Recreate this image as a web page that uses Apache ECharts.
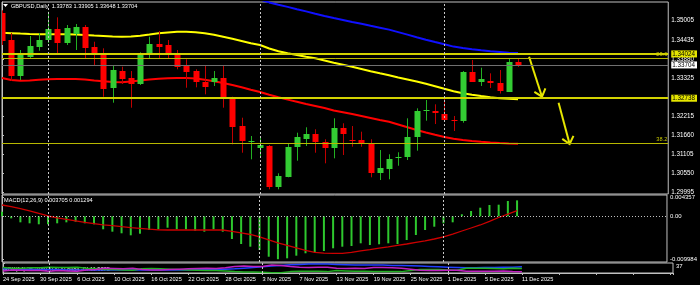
<!DOCTYPE html>
<html><head><meta charset="utf-8">
<script src="https://cdn.jsdelivr.net/npm/echarts@6/dist/echarts.min.js"></script>
<style>html,body{margin:0;padding:0;background:#000;}#c{width:700px;height:285px;}</style>
</head><body><div id="c"></div>
<script>
const dates = ['24 Sep 2025','25 Sep 2025','26 Sep 2025','29 Sep 2025','30 Sep 2025',
'1 Oct 2025','2 Oct 2025','3 Oct 2025','6 Oct 2025','7 Oct 2025','8 Oct 2025','9 Oct 2025','10 Oct 2025',
'13 Oct 2025','14 Oct 2025','15 Oct 2025','16 Oct 2025','17 Oct 2025',
'20 Oct 2025','21 Oct 2025','22 Oct 2025','23 Oct 2025','24 Oct 2025',
'27 Oct 2025','28 Oct 2025','29 Oct 2025','30 Oct 2025','31 Oct 2025',
'3 Nov 2025','4 Nov 2025','5 Nov 2025','6 Nov 2025','7 Nov 2025',
'10 Nov 2025','11 Nov 2025','12 Nov 2025','13 Nov 2025','14 Nov 2025',
'17 Nov 2025','18 Nov 2025','19 Nov 2025','20 Nov 2025','21 Nov 2025',
'24 Nov 2025','25 Nov 2025','26 Nov 2025','27 Nov 2025','28 Nov 2025',
'1 Dec 2025','2 Dec 2025','3 Dec 2025','4 Dec 2025','5 Dec 2025',
'8 Dec 2025','9 Dec 2025','10 Dec 2025','11 Dec 2025'];

const opens = [1.35204,1.34428,1.33383,1.33926,1.34225,1.34420,1.34739,1.34350,1.34603,1.34815,
1.34225,1.33993,1.33026,1.33528,1.33316,1.33151,1.33993,1.34321,1.34283,1.34013,
1.33694,1.33537,1.33218,1.33218,1.33334,1.32715,1.31931,1.31481,1.31301,1.31359,
1.30169,1.30459,1.31330,1.31545,1.31699,1.31458,1.31301,1.31882,1.31525,1.31525,
1.31429,1.30558,1.30683,1.31002,1.31022,1.31621,1.32367,1.32376,1.32280,1.32105,
1.32085,1.33485,1.33218,1.33252,1.33171,1.32927,1.33783];
const highs = [1.35290,1.34632,1.34138,1.34544,1.34632,1.35250,1.35087,1.34864,1.34893,1.34864,
1.34379,1.34187,1.33703,1.33653,1.33528,1.34071,1.34524,1.34690,1.34428,1.34138,
1.33868,1.33578,1.33703,1.33528,1.33682,1.32782,1.32172,1.31641,1.31621,1.31380,
1.30558,1.31429,1.31737,1.31894,1.31836,1.31545,1.32155,1.32010,1.31931,1.31766,
1.31545,1.31234,1.31110,1.31168,1.32155,1.32445,1.32686,1.32561,1.32773,1.32222,
1.33528,1.33848,1.33624,1.33461,1.33557,1.33897,1.33905];
const lows = [1.34283,1.33238,1.33267,1.33906,1.34118,1.34341,1.34013,1.34283,1.34138,1.33897,
1.33703,1.32782,1.32608,1.33151,1.32463,1.33122,1.33897,1.33897,1.33897,1.33578,
1.33043,1.33055,1.32852,1.33093,1.32463,1.31400,1.31156,1.30964,1.31060,1.30093,
1.30093,1.30442,1.30924,1.31351,1.31156,1.30848,1.30993,1.31089,1.31330,1.31330,
1.30442,1.30363,1.30384,1.30778,1.30944,1.31214,1.32085,1.31989,1.32076,1.31786,
1.32027,1.33209,1.33093,1.33035,1.32875,1.32918,1.33648];
const closes = [1.34408,1.33383,1.34013,1.34254,1.34420,1.34739,1.34350,1.34785,1.34815,1.34205,
1.34013,1.32997,1.33557,1.33287,1.33165,1.33993,1.34303,1.34225,1.34013,1.33653,
1.33508,1.33218,1.33072,1.33334,1.32707,1.31911,1.31505,1.31510,1.31380,1.30169,
1.30480,1.31330,1.31621,1.31699,1.31475,1.31301,1.31865,1.31699,1.31505,1.31429,
1.30558,1.30703,1.30973,1.31031,1.31621,1.32376,1.32387,1.32317,1.32097,1.32085,
1.33485,1.33218,1.33296,1.33180,1.32939,1.33781,1.33704];

const maBlue = [null,null,null,null,null,null,null,null,null,null,
null,null,null,null,null,null,null,null,null,null,
null,null,null,null,null,null,1.35750,1.35677,1.35604,1.35520,
1.35453,1.35390,1.35323,1.35259,1.35192,1.35128,1.35067,1.35012,1.34954,1.34899,
1.34841,1.34786,1.34730,1.34658,1.34585,1.34510,1.34437,1.34370,1.34304,1.34237,
1.34196,1.34161,1.34129,1.34100,1.34080,1.34060,1.34051];
const maYellow = [1.34637,1.34626,1.34614,1.34603,1.34597,1.34597,1.34597,1.34594,1.34585,1.34571,
1.34556,1.34545,1.34533,1.34524,1.34527,1.34550,1.34585,1.34623,1.34649,1.34667,
1.34667,1.34652,1.34623,1.34579,1.34521,1.34463,1.34399,1.34333,1.34283,1.34182,
1.34103,1.34045,1.33993,1.33944,1.33897,1.33833,1.33769,1.33711,1.33650,1.33586,
1.33522,1.33462,1.33403,1.33340,1.33281,1.33223,1.33157,1.33087,1.33011,1.32942,
1.32884,1.32837,1.32802,1.32768,1.32738,1.32721,1.32709];
const maRed = [1.33325,1.33267,1.33244,1.33252,1.33273,1.33290,1.33296,1.33296,1.33296,1.33281,
1.33252,1.33229,1.33209,1.33200,1.33223,1.33252,1.33281,1.33302,1.33316,1.33325,
1.33328,1.33310,1.33273,1.33229,1.33180,1.33122,1.33055,1.32982,1.32918,1.32840,
1.32768,1.32698,1.32634,1.32570,1.32512,1.32454,1.32381,1.32332,1.32280,1.32222,
1.32164,1.32105,1.32053,1.31975,1.31896,1.31815,1.31743,1.31676,1.31612,1.31560,
1.31525,1.31496,1.31473,1.31452,1.31438,1.31426,1.31417];

const macdHist = [0.00107,-0.00047,-0.00140,-0.00163,-0.00186,-0.00186,-0.00163,-0.00140,-0.00126,-0.00163,
-0.00186,-0.00302,-0.00358,-0.00395,-0.00442,-0.00405,-0.00319,-0.00302,-0.00265,-0.00302,
-0.00302,-0.00335,-0.00358,-0.00302,-0.00358,-0.00528,-0.00644,-0.00707,-0.00784,-0.00940,
-0.00998,-0.00977,-0.00916,-0.00860,-0.00837,-0.00807,-0.00744,-0.00707,-0.00691,-0.00628,
-0.00667,-0.00651,-0.00628,-0.00644,-0.00551,-0.00435,-0.00319,-0.00242,-0.00163,-0.00140,
0.00047,0.00123,0.00200,0.00263,0.00270,0.00356,0.003705];
const macdSignal = [0.00263,0.00223,0.00181,0.00128,0.00070,0.00007,-0.00035,-0.00070,-0.00105,-0.00140,
-0.00170,-0.00198,-0.00219,-0.00242,-0.00263,-0.00281,-0.00300,-0.00314,-0.00319,-0.00319,
-0.00319,-0.00319,-0.00319,-0.00319,-0.00319,-0.00349,-0.00384,-0.00423,-0.00477,-0.00547,
-0.00616,-0.00679,-0.00737,-0.00795,-0.00837,-0.00858,-0.00863,-0.00863,-0.00840,-0.00802,
-0.00774,-0.00742,-0.00709,-0.00674,-0.00644,-0.00607,-0.00572,-0.00528,-0.00477,-0.00412,
-0.00342,-0.00272,-0.00202,-0.00116,-0.00028,0.00053,0.001294];

const adxLine = [20,20,19,19,18,18,18,17,17,17,17,17,17,17,17,17,17,17,17,17,
17,18,18,18,19,20,22,24,26,28,30,32,33,34,34,34,33,32,31,31,
31,31,30,30,29,28,27,26,25,24,23,23,24,24,25,25,26.3169];
const plusDI = [24,22,22,23,23,25,24,24,25,22,21,18,18,17,16,20,21,20,19,18,
17,16,15,15,14,12,11,11,10,9,9,12,13,13,13,12,15,14,13,13,
12,12,12,12,15,18,18,18,17,16,22,22,22,21,20,22,20.8484];
const minusDI = [14,17,16,15,15,13,15,14,13,17,18,22,21,20,22,18,17,17,18,19,
20,21,22,21,23,27,28,27,27,31,30,27,25,24,25,25,22,21,22,21,
24,24,23,22,19,16,15,15,16,16,13,13,13,13,14,12,11.9875];

const priceTicks = [1.29995,1.30550,1.31105,1.31660,1.32215,1.33325,1.33880,1.34435,1.35005];
const levelLines = [1.34024,1.32738];
const bidPrice = 1.33704;
const fibLevels = [{name:'23.6', value:1.33898},{name:'38.2', value:1.31429}];
const macdTicks = [0.004357,0,-0.009984];
const adxTicks = [37];
const arrows = [[57.2,1.33944,58.6,1.32782],[60.4,1.32608,61.6,1.31409]];

const FONT = 'Liberation Sans';
const separators = [];
for (let i = 1; i < dates.length; i++) {
  if (dates[i].split(' ')[1] !== dates[i-1].split(' ')[1]) separators.push(i);
}
const sepLines = separators.map(i => ({xAxis: i}));
const sepStyle = {color:'#c8c8c8', width:1, type:[2,2]};
const pairs = arr => arr.map((v,i) => [i, v]);
const n = dates.length;
const last = n - 1;

const chart = echarts.init(document.getElementById('c'), null, {renderer:'canvas'});

function fmtPrice(v){
  const s = v.toFixed(5);
  if (levelLines.some(l => Math.abs(l - v) < 1e-7)) return '{hy|' + s + '}';
  if (Math.abs(v - bidPrice) < 1e-7) return '{hw|' + s + '}';
  return s;
}

const xCommon = {type:'value', min:0, max:72.3};
const option = {
  animation:false,
  backgroundColor:'#000',
  grid:[
    {left:2, top:2, width:671, height:192, show:true, borderColor:'#c0c0c0', borderWidth:1, backgroundColor:'#000'},
    {left:2, top:195, width:671, height:67, show:true, borderColor:'#c0c0c0', borderWidth:1, backgroundColor:'#000'},
    {left:2, top:263, width:671, height:10, show:true, borderColor:'#c0c0c0', borderWidth:1, backgroundColor:'#000'}
  ],
  xAxis:[
    Object.assign({gridIndex:0, show:false}, xCommon),
    Object.assign({gridIndex:1, show:false}, xCommon),
    Object.assign({gridIndex:2, interval:4,
      axisLine:{show:true, lineStyle:{color:'#c0c0c0'}},
      axisTick:{show:true, length:2, lineStyle:{color:'#c0c0c0'}},
      splitLine:{show:false},
      axisLabel:{color:'#fff', fontSize:5.6, fontFamily:FONT, align:'left', margin:3,
        formatter: v => (Number.isInteger(v) && v < n) ? dates[v] : ''}}, xCommon)
  ],
  yAxis:[
    {gridIndex:0, type:'value', position:'right', min:1.29957, max:1.35532,
      axisLine:{show:true, lineStyle:{color:'#c0c0c0'}},
      axisTick:{show:true, length:2, customValues:priceTicks, lineStyle:{color:'#c0c0c0'}},
      splitLine:{show:false},
      axisLabel:{customValues: priceTicks.concat([bidPrice], levelLines), margin:3, color:'#fff',
        fontSize:6.3, fontFamily:FONT, formatter: fmtPrice,
        rich:{
          hy:{backgroundColor:'#e6e600', color:'#000', fontSize:6.3, fontFamily:FONT, padding:[1,2,0,1]},
          hw:{backgroundColor:'#ffffff', color:'#000', fontSize:6.3, fontFamily:FONT, padding:[1,2,0,1]}
        }}},
    {gridIndex:1, type:'value', position:'right', min:-0.010628, max:0.004953,
      axisLine:{show:true, lineStyle:{color:'#c0c0c0'}},
      axisTick:{show:true, length:2, customValues:macdTicks, lineStyle:{color:'#c0c0c0'}},
      splitLine:{show:false},
      axisLabel:{customValues: macdTicks, margin:3, color:'#fff', fontSize:6, fontFamily:FONT,
        formatter: v => v === 0 ? '0.00' : v.toFixed(6)}},
    {gridIndex:2, type:'value', position:'right', min:8, max:37,
      axisLine:{show:true, lineStyle:{color:'#c0c0c0'}},
      axisTick:{show:true, length:2, customValues:adxTicks, lineStyle:{color:'#c0c0c0'}},
      splitLine:{show:false},
      axisLabel:{customValues: adxTicks, margin:3, color:'#fff', fontSize:6, fontFamily:FONT,
        verticalAlign:'top', formatter: v => String(v)}}
  ],
  graphic:[
    {type:'polygon', shape:{points:[[3,4],[8,4],[5.5,7]]}, style:{fill:'#fff'}},
    {type:'text', left:11, top:3, style:{text:'GBPUSD,Daily  ' + [opens[last], highs[last], lows[last], closes[last]].map(v => v.toFixed(5)).join(' '),
      fill:'#fff', fontSize:5.6, fontFamily:FONT}},
    {type:'text', left:4, top:197.5, style:{text:'MACD(12,26,9) ' + macdHist[last].toFixed(6) + ' ' + macdSignal[last].toFixed(6),
      fill:'#fff', fontSize:5.6, fontFamily:FONT}},
    {type:'text', left:4, top:266, style:{text:'ADX(14) ' + adxLine[last].toFixed(4) + ' +DI:' + plusDI[last].toFixed(4) + ' -DI:' + minusDI[last].toFixed(4),
      fill:'#fff', fontSize:5.6, fontFamily:FONT}}
  ],
  series:[
    {type:'line', name:'MA blue', xAxisIndex:0, yAxisIndex:0, data:pairs(maBlue), showSymbol:false, z:1,
      lineStyle:{color:'#1010ff', width:2}, connectNulls:false},
    {type:'line', name:'MA yellow', xAxisIndex:0, yAxisIndex:0, data:pairs(maYellow), showSymbol:false, z:1,
      lineStyle:{color:'#ffff00', width:2}},
    {type:'line', name:'MA red', xAxisIndex:0, yAxisIndex:0, data:pairs(maRed), showSymbol:false, z:1,
      lineStyle:{color:'#ff0000', width:2}},
    {type:'custom', name:'GBPUSD', xAxisIndex:0, yAxisIndex:0, z:2, clip:true,
      data: opens.map((o,i) => [i, o, closes[i], lows[i], highs[i]]),
      encode:{x:0, y:[1,2,3,4]},
      renderItem:function(params, api){
        const i = api.value(0);
        const o = api.coord([i, api.value(1)]);
        const c = api.coord([i, api.value(2)]);
        const l = api.coord([i, api.value(3)]);
        const h = api.coord([i, api.value(4)]);
        const up = api.value(2) >= api.value(1);
        const x = Math.round(o[0]) + 0.5;
        const top = Math.round(Math.min(o[1], c[1]));
        const bot = Math.round(Math.max(o[1], c[1]));
        const bh = Math.max(bot - top, 1);
        return {type:'group', children:[
          {type:'line', shape:{x1:x, y1:h[1], x2:x, y2:l[1]}, style:{stroke: up ? '#22b022' : '#c00000', lineWidth:1}},
          {type:'rect', shape:{x:x-3, y:top, width:6, height:bh}, style:{fill: up ? '#33cc33' : '#ff0000'}}
        ]};
      }},
    {type:'line', name:'levels', xAxisIndex:0, yAxisIndex:0, data:[], z:3,
      markLine:{silent:true, symbol:['none','none'], animation:false, precision:5,
        data:[
          {yAxis:levelLines[0], lineStyle:{color:'#d2d200', width:2, type:'solid'}, label:{show:false}},
          {yAxis:levelLines[1], lineStyle:{color:'#d2d200', width:2, type:'solid'}, label:{show:false}},
          {yAxis:bidPrice, lineStyle:{color:'#707070', width:1, type:'solid'}, label:{show:false}}
        ].concat(fibLevels.map(f => ({yAxis:f.value, lineStyle:{color:'#b8b800', width:1, type:'solid'},
          label:{show:true, position:'insideEndTop', formatter:f.name, color:'#c8c800', fontSize:5.6, fontFamily:FONT, distance:[1,1]}})))
        .concat(sepLines.map(s => Object.assign({lineStyle:sepStyle, label:{show:false}}, s)))
      }},
    {type:'custom', name:'arrows', xAxisIndex:0, yAxisIndex:0, z:4, data:arrows,
      encode:{x:[0,2], y:[1,3]},
      renderItem:function(params, api){
        const a = api.coord([api.value(0), api.value(1)]);
        const b = api.coord([api.value(2), api.value(3)]);
        const ang = Math.atan2(b[1]-a[1], b[0]-a[0]);
        const L = 9, sp = 0.7;
        const w1 = [b[0] - L*Math.cos(ang - sp), b[1] - L*Math.sin(ang - sp)];
        const w2 = [b[0] - L*Math.cos(ang + sp), b[1] - L*Math.sin(ang + sp)];
        return {type:'group', children:[
          {type:'line', shape:{x1:a[0], y1:a[1], x2:b[0], y2:b[1]}, style:{stroke:'#e6e600', lineWidth:2}},
          {type:'polyline', shape:{points:[w1, b, w2]}, style:{stroke:'#e6e600', lineWidth:2, fill:null}}
        ]};
      }},
    {type:'bar', name:'MACD', xAxisIndex:1, yAxisIndex:1, data:pairs(macdHist), barWidth:2,
      itemStyle:{color:'#2ec82e'}, z:2,
      markLine:{silent:true, symbol:['none','none'], animation:false, precision:6,
        data:[{yAxis:0, lineStyle:{color:'#c0c0c0', width:1, type:[1,2]}, label:{show:false}}]
          .concat(sepLines.map(s => Object.assign({lineStyle:sepStyle, label:{show:false}}, s)))}},
    {type:'line', name:'Signal', xAxisIndex:1, yAxisIndex:1, data:pairs(macdSignal), showSymbol:false, z:3,
      lineStyle:{color:'#cc0000', width:1.3}},
    {type:'line', name:'ADX', xAxisIndex:2, yAxisIndex:2, data:pairs(adxLine), showSymbol:false,
      lineStyle:{color:'#2040ff', width:1.5},
      markLine:{silent:true, symbol:['none','none'], animation:false,
        data: sepLines.map(s => Object.assign({lineStyle:sepStyle, label:{show:false}}, s))}},
    {type:'line', name:'+DI', xAxisIndex:2, yAxisIndex:2, data:pairs(plusDI), showSymbol:false,
      lineStyle:{color:'#22b022', width:1.5}},
    {type:'line', name:'-DI', xAxisIndex:2, yAxisIndex:2, data:pairs(minusDI), showSymbol:false,
      lineStyle:{color:'#c020c0', width:1.5}}
  ]
};
chart.setOption(option);
</script>
</body></html>
